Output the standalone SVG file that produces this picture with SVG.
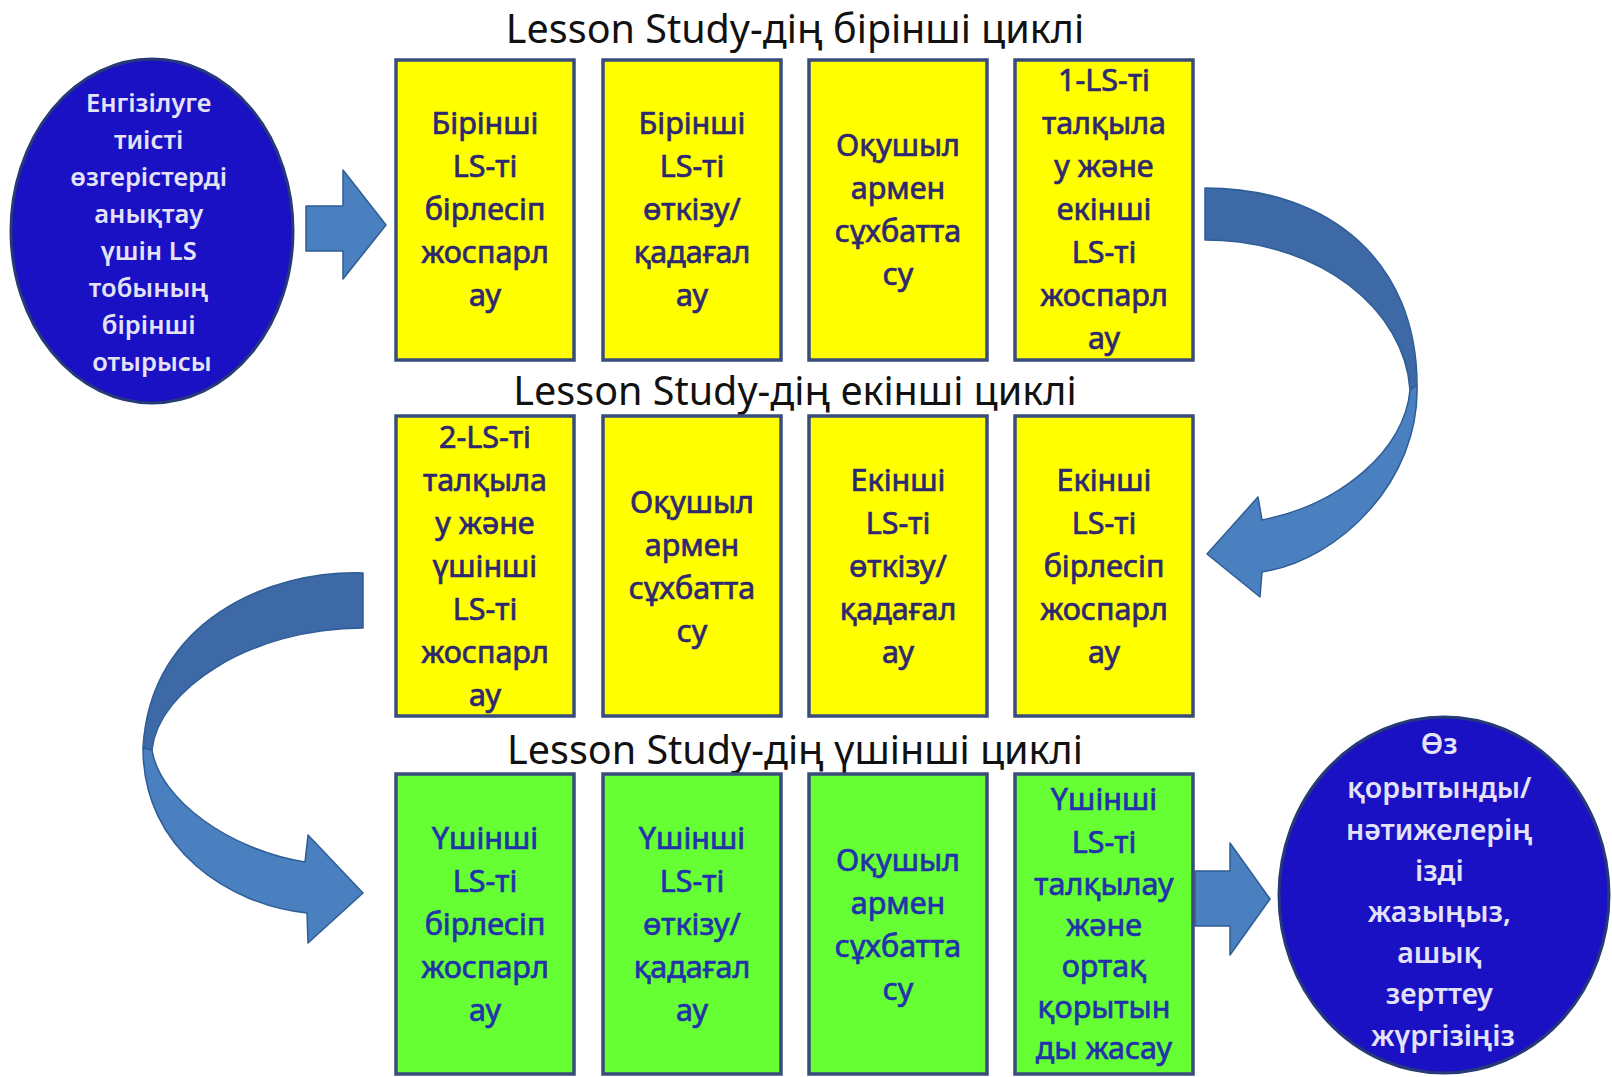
<svg xmlns="http://www.w3.org/2000/svg" width="1612" height="1077" viewBox="0 0 1612 1077">
<style>
.title{font-family:"Noto Sans","Open Sans","DejaVu Sans",sans-serif;font-size:39.5px;fill:#111;text-anchor:middle}
.yb{fill:#ffff00;stroke:#3a4c7c;stroke-width:3.5}
.gb{fill:#66ff33;stroke:#3a4c7c;stroke-width:3.5}
.bt{font-family:"Noto Sans","Open Sans","DejaVu Sans",sans-serif;font-size:30.5px;text-anchor:middle;stroke-width:0.7}
.yt{fill:#2e2870;stroke:#2e2870}
.gt{fill:#2233aa;stroke:#2233aa}
.el{fill:#1a10c4;stroke:#263a78;stroke-width:3}
.et{font-family:"Noto Sans","Open Sans","DejaVu Sans",sans-serif;font-weight:600;text-anchor:middle;fill:#e4e2f6}
.ar{fill:#4a7fc0;stroke:#2f5d95;stroke-width:1.5;stroke-linejoin:round}
.ard{fill:#3d69a6;stroke:#2f5d95;stroke-width:1.5;stroke-linejoin:round}
</style>
<rect width="1612" height="1077" fill="#ffffff"/>

<text class="title" x="795" y="43">Lesson Study-дің бірінші циклі</text>
<text class="title" x="795" y="405">Lesson Study-дің екінші циклі</text>
<text class="title" x="795" y="764">Lesson Study-дің үшінші циклі</text>

<g id="connectors">
  <path id="a1" class="ar" d="M306,206 L343,206 L343,170 L386,225 L343,279 L343,251 L306,251 Z"/>
  <g id="a2">
    <path class="ard" d="M1205,188 C1330,188 1417,262 1417,385 L1410,390 C1405,310 1320,240 1205,240 Z"/>
    <path class="ar" d="M1417,385 C1420,480 1340,560 1262,572 L1260,597 L1207,554 L1258,497 L1262,520 C1340,505 1405,450 1410,390 Z"/>
  </g>
  <g id="a3">
    <path class="ard" d="M363,573 C270,570 150,620 143,748 L152,750 C158,690 250,628 363,628 Z"/>
    <path class="ar" d="M143,748 C143,850 230,905 307,913 L308,943 L363,893 L308,835 L305,862 C230,850 160,800 152,750 Z"/>
  </g>
  <path id="a4" class="ar" d="M1195,871 L1230,871 L1230,843 L1270,899 L1230,955 L1230,926 L1195,926 Z"/>
</g>

<g id="start">
  <ellipse class="el" cx="152" cy="231" rx="141" ry="172"/>
  <text class="et" font-size="25.5">
    <tspan x="152" y="112">Енгізілуге</tspan>
    <tspan x="152" y="149">тиісті</tspan>
    <tspan x="152" y="186">өзгерістерді</tspan>
    <tspan x="152" y="223">анықтау</tspan>
    <tspan x="152" y="260">үшін LS</tspan>
    <tspan x="152" y="297">тобының</tspan>
    <tspan x="152" y="334">бірінші</tspan>
    <tspan x="152" y="371">отырысы</tspan>
  </text>
</g>

<g id="c1b1">
  <rect class="yb" x="396" y="60" width="178" height="300"/>
  <text class="bt yt"><tspan x="485" y="134">Бірінші</tspan><tspan x="485" y="177">LS-ті</tspan><tspan x="485" y="220">бірлесіп</tspan><tspan x="485" y="263">жоспарл</tspan><tspan x="485" y="306">ау</tspan></text>
</g>
<g id="c1b2">
  <rect class="yb" x="603" y="60" width="178" height="300"/>
  <text class="bt yt"><tspan x="692" y="134">Бірінші</tspan><tspan x="692" y="177">LS-ті</tspan><tspan x="692" y="220">өткізу/</tspan><tspan x="692" y="263">қадағал</tspan><tspan x="692" y="306">ау</tspan></text>
</g>
<g id="c1b3">
  <rect class="yb" x="809" y="60" width="178" height="300"/>
  <text class="bt yt"><tspan x="898" y="156">Оқушыл</tspan><tspan x="898" y="199">армен</tspan><tspan x="898" y="242">сұхбатта</tspan><tspan x="898" y="285">су</tspan></text>
</g>
<g id="c1b4">
  <rect class="yb" x="1015" y="60" width="178" height="300"/>
  <text class="bt yt"><tspan x="1104" y="91">1-LS-ті</tspan><tspan x="1104" y="134">талқыла</tspan><tspan x="1104" y="177">у және</tspan><tspan x="1104" y="220">екінші</tspan><tspan x="1104" y="263">LS-ті</tspan><tspan x="1104" y="306">жоспарл</tspan><tspan x="1104" y="349">ау</tspan></text>
</g>

<g id="c2b1">
  <rect class="yb" x="396" y="416" width="178" height="300"/>
  <text class="bt yt"><tspan x="485" y="448">2-LS-ті</tspan><tspan x="485" y="491">талқыла</tspan><tspan x="485" y="534">у және</tspan><tspan x="485" y="577">үшінші</tspan><tspan x="485" y="620">LS-ті</tspan><tspan x="485" y="663">жоспарл</tspan><tspan x="485" y="706">ау</tspan></text>
</g>
<g id="c2b2">
  <rect class="yb" x="603" y="416" width="178" height="300"/>
  <text class="bt yt"><tspan x="692" y="513">Оқушыл</tspan><tspan x="692" y="556">армен</tspan><tspan x="692" y="599">сұхбатта</tspan><tspan x="692" y="642">су</tspan></text>
</g>
<g id="c2b3">
  <rect class="yb" x="809" y="416" width="178" height="300"/>
  <text class="bt yt"><tspan x="898" y="491">Екінші</tspan><tspan x="898" y="534">LS-ті</tspan><tspan x="898" y="577">өткізу/</tspan><tspan x="898" y="620">қадағал</tspan><tspan x="898" y="663">ау</tspan></text>
</g>
<g id="c2b4">
  <rect class="yb" x="1015" y="416" width="178" height="300"/>
  <text class="bt yt"><tspan x="1104" y="491">Екінші</tspan><tspan x="1104" y="534">LS-ті</tspan><tspan x="1104" y="577">бірлесіп</tspan><tspan x="1104" y="620">жоспарл</tspan><tspan x="1104" y="663">ау</tspan></text>
</g>

<g id="c3b1">
  <rect class="gb" x="396" y="774" width="178" height="300"/>
  <text class="bt gt"><tspan x="485" y="849">Үшінші</tspan><tspan x="485" y="892">LS-ті</tspan><tspan x="485" y="935">бірлесіп</tspan><tspan x="485" y="978">жоспарл</tspan><tspan x="485" y="1021">ау</tspan></text>
</g>
<g id="c3b2">
  <rect class="gb" x="603" y="774" width="178" height="300"/>
  <text class="bt gt"><tspan x="692" y="849">Үшінші</tspan><tspan x="692" y="892">LS-ті</tspan><tspan x="692" y="935">өткізу/</tspan><tspan x="692" y="978">қадағал</tspan><tspan x="692" y="1021">ау</tspan></text>
</g>
<g id="c3b3">
  <rect class="gb" x="809" y="774" width="178" height="300"/>
  <text class="bt gt"><tspan x="898" y="871">Оқушыл</tspan><tspan x="898" y="914">армен</tspan><tspan x="898" y="957">сұхбатта</tspan><tspan x="898" y="1000">су</tspan></text>
</g>
<g id="c3b4">
  <rect class="gb" x="1015" y="774" width="178" height="300"/>
  <text class="bt gt"><tspan x="1104" y="810">Үшінші</tspan><tspan x="1104" y="853">LS-ті</tspan><tspan x="1104" y="895">талқылау</tspan><tspan x="1104" y="936">және</tspan><tspan x="1104" y="977">ортақ</tspan><tspan x="1104" y="1018">қорытын</tspan><tspan x="1104" y="1059">ды жасау</tspan></text>
</g>

<g id="end">
  <ellipse class="el" cx="1444" cy="895" rx="165" ry="178"/>
  <text class="et" font-size="28.5">
    <tspan x="1443" y="754">Өз</tspan>
    <tspan x="1443" y="798">қорытынды/</tspan>
    <tspan x="1443" y="840">нәтижелерің</tspan>
    <tspan x="1443" y="881">ізді</tspan>
    <tspan x="1443" y="922">жазыңыз,</tspan>
    <tspan x="1443" y="963">ашық</tspan>
    <tspan x="1443" y="1004">зерттеу</tspan>
    <tspan x="1443" y="1046">жүргізіңіз</tspan>
  </text>
</g>
</svg>
